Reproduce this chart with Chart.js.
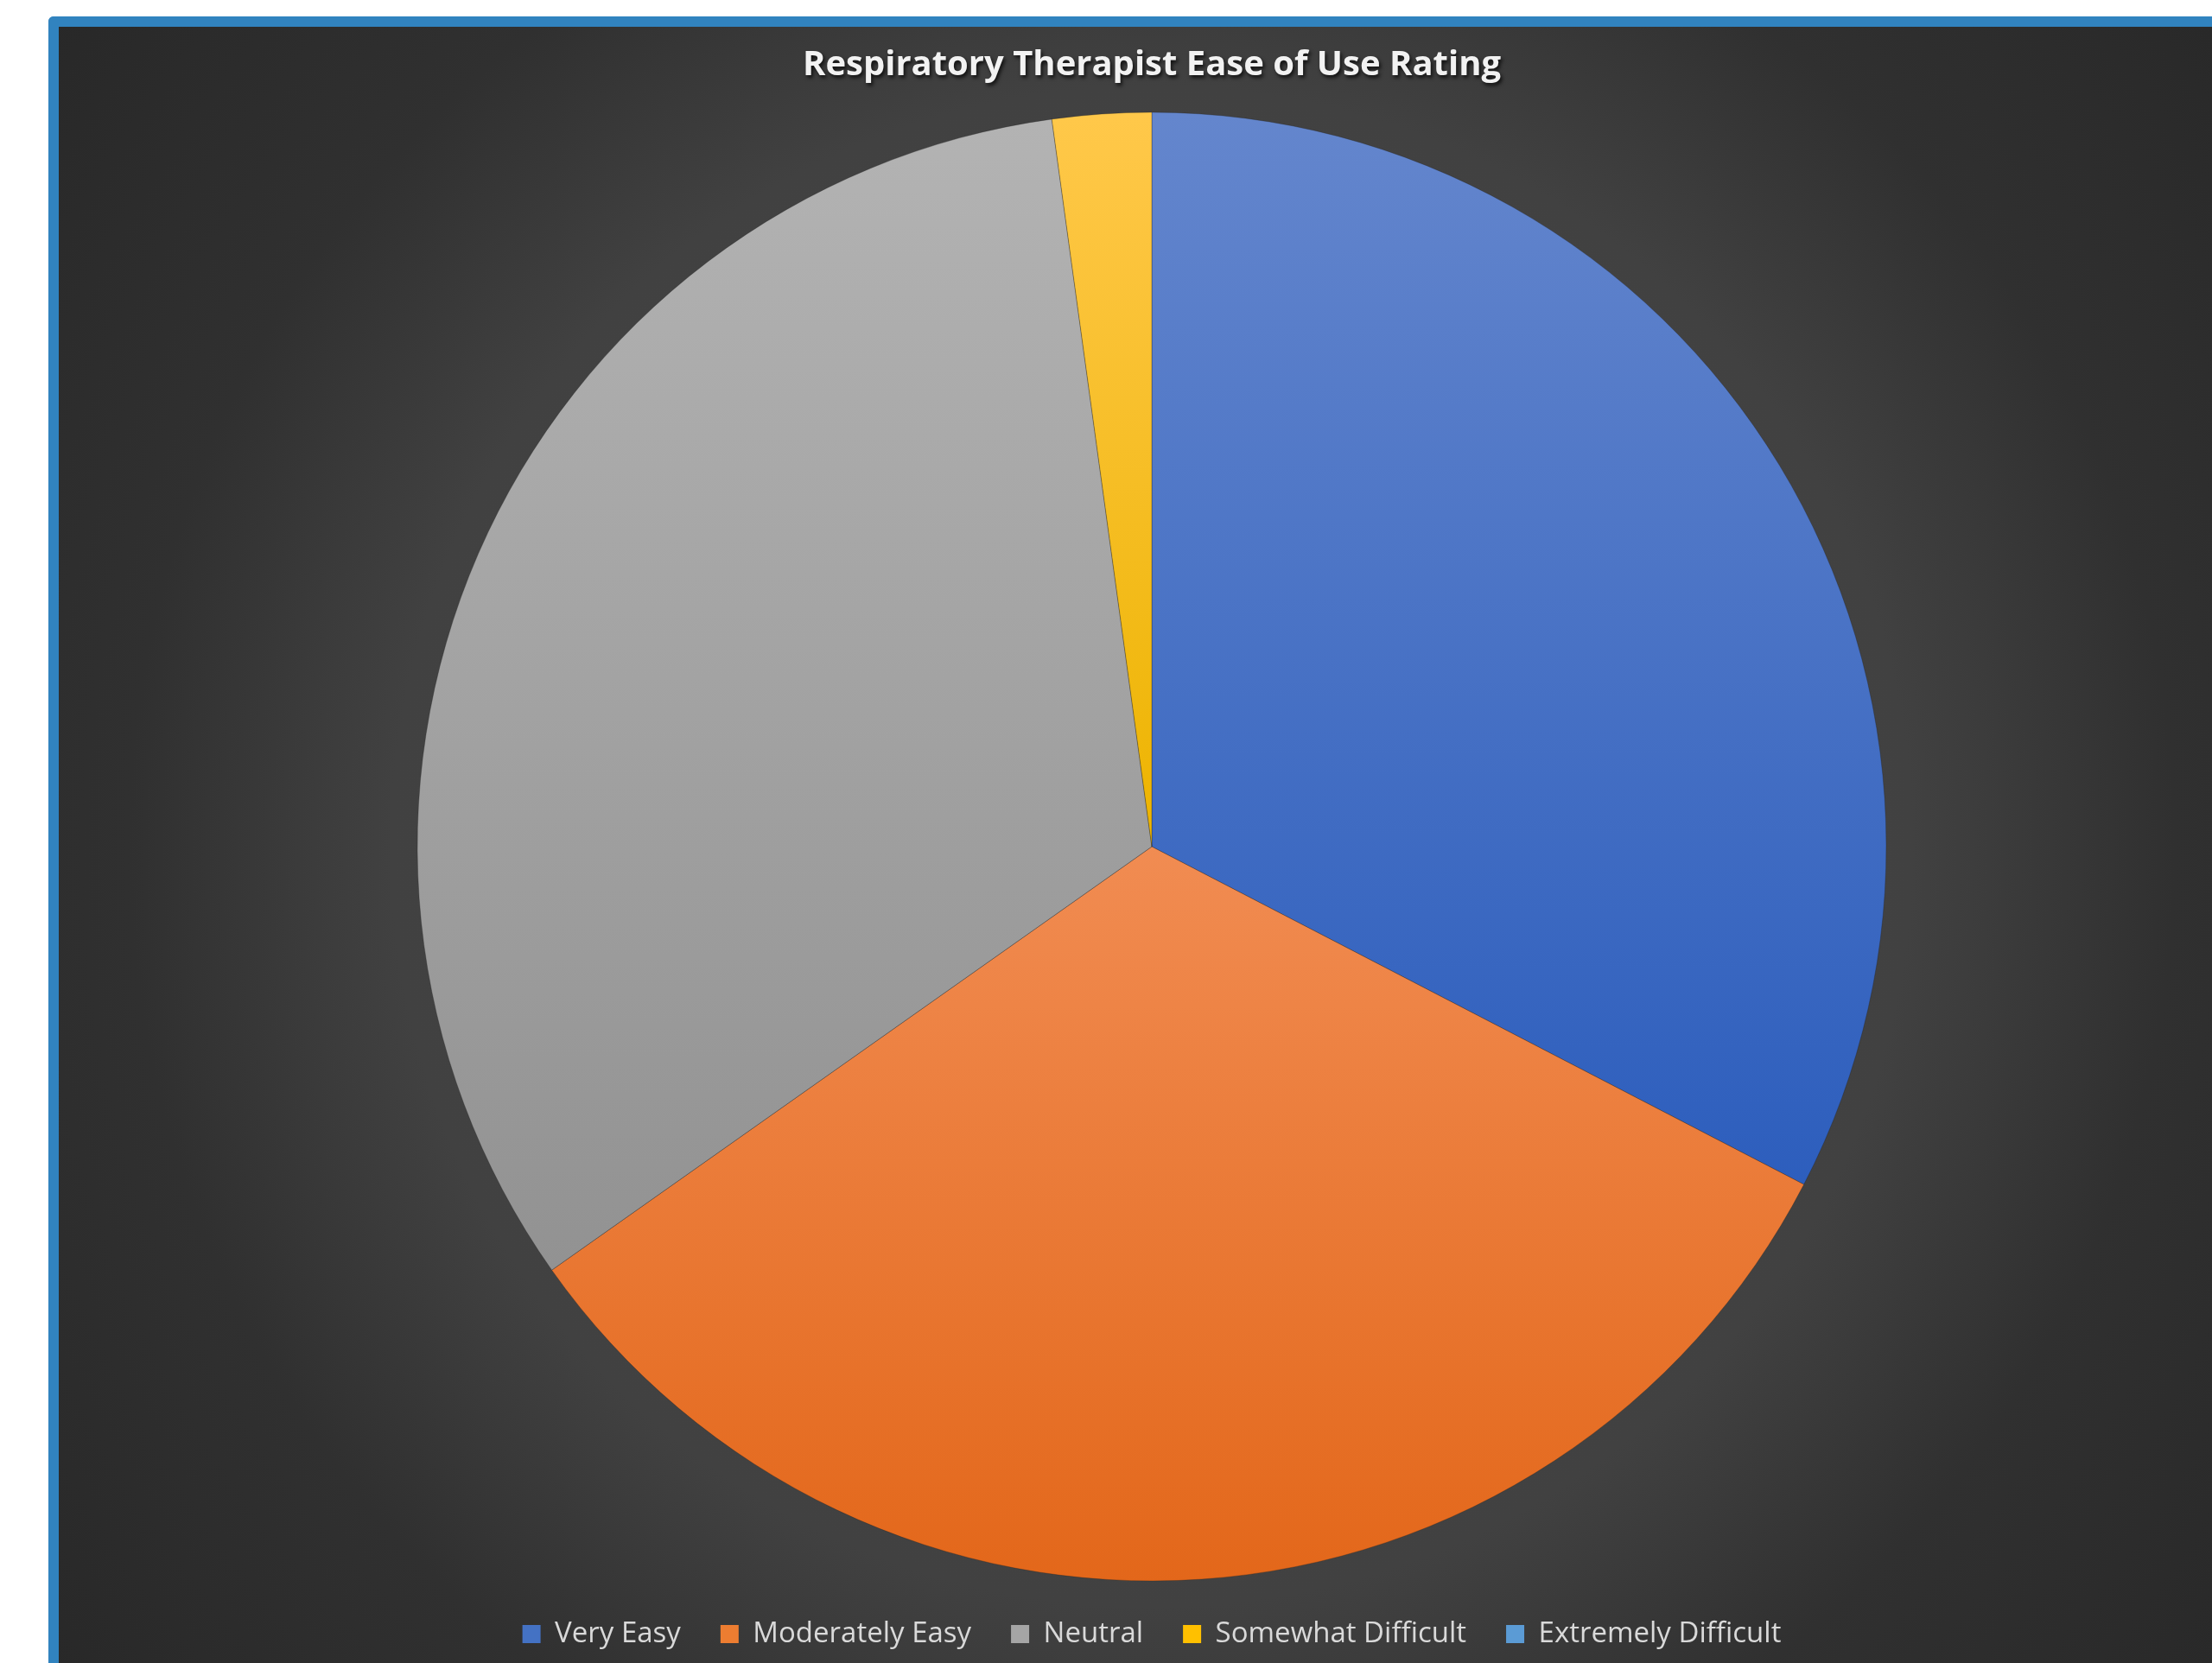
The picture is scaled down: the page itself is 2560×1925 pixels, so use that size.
<!DOCTYPE html>
<html>
<head>
<meta charset="utf-8">
<script src="https://cdn.jsdelivr.net/npm/chart.js@4.4.1/dist/chart.umd.min.js"></script>
<style>
  html, body { margin: 0; padding: 0; background: #ffffff; overflow: hidden; width: 2560px; height: 1925px; }
  #frame {
    position: absolute; left: 56px; top: 19px;
    border-left: 12px solid #3183BF; border-top: 12px solid #3183BF;
    border-top-left-radius: 6px;
    width: 2530px; height: 1894px; background: #2a2a2a;
  }
  canvas { display: block; }
</style>
</head>
<body>
<div id="frame"><canvas id="c" width="2530" height="1894"></canvas></div>
<script>
// ---- data ----
const chartTitle = 'Respiratory Therapist Ease of Use Rating';
const categories = ['Very Easy', 'Moderately Easy', 'Neutral', 'Somewhat Difficult', 'Extremely Difficult'];
const responses = [15, 15, 15, 1, 0];

// ---- styles ----
const baseColors   = ['#4472C4', '#ED7D31', '#A5A5A5', '#FFC000', '#5B9BD5'];
const topColors    = ['#6486CD', '#F18C52', '#B3B3B3', '#FFC84A', '#72A9DC'];
const bottomColors = ['#2D5EBD', '#E3671A', '#929292', '#EDB400', '#4A8ACB'];
const PIE_RADIUS = 850;

function sliceGradient(ctx) {
  const chart = ctx.chart;
  const i = ctx.dataIndex;
  const area = chart.chartArea;
  if (!area || i === undefined) return baseColors[i] || '#888';
  const cx = (area.left + area.right) / 2;
  const cy = (area.top + area.bottom) / 2;
  const total = responses.reduce((a, b) => a + b, 0);
  let a0 = -Math.PI / 2;
  for (let j = 0; j < i; j++) a0 += responses[j] / total * 2 * Math.PI;
  const a1 = a0 + responses[i] / total * 2 * Math.PI;
  const ys = [cy, cy + PIE_RADIUS * Math.sin(a0), cy + PIE_RADIUS * Math.sin(a1)];
  const within = (a) => {
    for (let k = -2; k <= 2; k++) { const t = a + k * 2 * Math.PI; if (t >= a0 && t <= a1) return true; }
    return false;
  };
  if (within(Math.PI / 2)) ys.push(cy + PIE_RADIUS);
  if (within(-Math.PI / 2)) ys.push(cy - PIE_RADIUS);
  let top = Math.min(...ys), bottom = Math.max(...ys);
  if (bottom - top < 1) bottom = top + 1;
  const g = chart.ctx.createLinearGradient(0, top, 0, bottom);
  g.addColorStop(0, topColors[i]);
  g.addColorStop(1, bottomColors[i]);
  return g;
}

const bgPlugin = {
  id: 'bg',
  beforeDraw(chart) {
    const ctx = chart.ctx;
    const area = chart.chartArea;
    const cx = (area.left + area.right) / 2;
    const cy = (area.top + area.bottom) / 2;
    ctx.save();
    const g = ctx.createRadialGradient(cx, cy, 0, cx, cy, 1600);
    g.addColorStop(0, '#474747');
    g.addColorStop(0.55, '#414141');
    g.addColorStop(0.74, '#303030');
    g.addColorStop(1, '#282828');
    ctx.fillStyle = g;
    ctx.fillRect(0, 0, chart.width, chart.height);
    ctx.restore();
    const tb = chart.titleBlock;
    if (tb && !tb._shadowWrapped) {
      const orig = tb.draw.bind(tb);
      tb.draw = function (a) {
        const c = chart.ctx;
        c.save();
        c.shadowColor = 'rgba(0,0,0,0.75)';
        c.shadowBlur = 4;
        c.shadowOffsetX = 2;
        c.shadowOffsetY = 3;
        orig(a);
        c.restore();
      };
      tb._shadowWrapped = true;
    }
  }
};

new Chart(document.getElementById('c'), {
  type: 'pie',
  data: {
    labels: categories,
    datasets: [{
      data: responses,
      backgroundColor: sliceGradient,
      borderColor: 'rgba(30,30,30,0.3)',
      borderWidth: 1,
      radius: PIE_RADIUS,
      clip: false
    }]
  },
  options: {
    responsive: false,
    maintainAspectRatio: false,
    animation: false,
    layout: { padding: { top: 0, bottom: 7, left: 0, right: 0 } },
    plugins: {
      title: {
        display: true,
        text: chartTitle,
        color: '#F2F2F2',
        font: { family: 'Open Sans', size: 40, weight: 'bold', lineHeight: 1.2 },
        padding: { top: 20.5, bottom: 31.5 }
      },
      legend: {
        display: true,
        position: 'bottom',
        labels: {
          color: '#D9D9D9',
          font: { family: 'Open Sans', size: 33 },
          boxWidth: 21,
          boxHeight: 21,
          padding: 46,
          generateLabels(chart) {
            return categories.map((c, i) => ({
              text: c,
              fillStyle: baseColors[i],
              strokeStyle: baseColors[i],
              lineWidth: 0,
              hidden: false,
              index: i,
              fontColor: '#D9D9D9'
            }));
          }
        }
      },
      tooltip: { enabled: false }
    }
  },
  plugins: [bgPlugin]
});
</script>
</body>
</html>
